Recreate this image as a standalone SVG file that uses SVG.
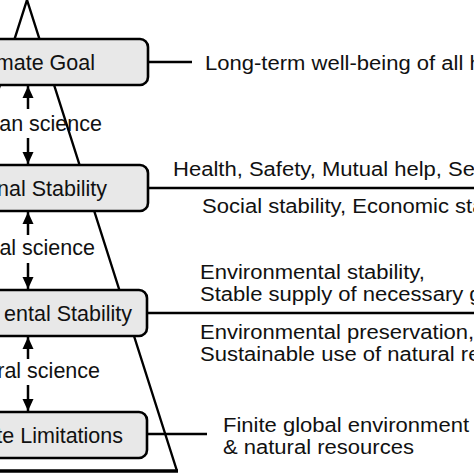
<svg xmlns="http://www.w3.org/2000/svg" width="474" height="474" viewBox="0 0 474 474">
<style>
.box{fill:#e8e8e8;stroke:#000;stroke-width:2.6}
.bt{font-family:"Liberation Sans",Arial,sans-serif;font-size:21.5px;fill:#111;text-anchor:end}
.rt{font-family:"Liberation Sans",Arial,sans-serif;font-size:19.5px;fill:#111}
.ln{stroke:#000;stroke-width:2.4;fill:none}
.ar{stroke:#000;stroke-width:2.5;fill:none;marker-end:url(#ah)}
</style>
<defs>
<marker id="ah" markerUnits="userSpaceOnUse" markerWidth="14" markerHeight="14" viewBox="0 0 14 14" refX="12" refY="7" orient="auto">
<path d="M0,1.5 L12,7 L0,12.5 Z" fill="#000"/>
</marker>
</defs>
<rect width="474" height="474" fill="#fff"/>
<g id="pyramid">
<path d="M-123,471 L27,0 L177,471" class="ln" stroke-width="2.6"/>
<line x1="-10" y1="471" x2="178" y2="471" stroke="#000" stroke-width="3.5"/>
</g>
<g id="connectors">
<line class="ar" x1="28" y1="109" x2="28" y2="86"/>
<line class="ar" x1="28" y1="138" x2="28" y2="164"/>
<line class="ar" x1="28" y1="235" x2="28" y2="212"/>
<line class="ar" x1="28" y1="263" x2="28" y2="289"/>
<line class="ar" x1="28" y1="359" x2="28" y2="337"/>
<line class="ar" x1="28" y1="385" x2="28" y2="411"/>
<line class="ln" x1="148" y1="62" x2="192" y2="62"/>
<line class="ln" x1="148" y1="188" x2="474" y2="188"/>
<line class="ln" x1="147" y1="313" x2="474" y2="313"/>
<line class="ln" x1="147" y1="434" x2="207" y2="434"/>
</g>
<g id="node-goal">
<rect class="box" x="-100" y="39" width="248" height="46" rx="8"/>
<text class="bt" x="95" y="69.5">mate Goal</text>
</g>
<g id="node-social">
<rect class="box" x="-100" y="165" width="248" height="46" rx="8"/>
<text class="bt" x="107" y="195.5">nal Stability</text>
</g>
<g id="node-env">
<rect class="box" x="-100" y="290" width="247" height="46" rx="8"/>
<text class="bt" x="132" y="320.5">ental Stability</text>
</g>
<g id="node-limits">
<rect class="box" x="-100" y="412" width="247" height="46" rx="8"/>
<text class="bt" x="123" y="442.5">te Limitations</text>
</g>
<g id="science-labels">
<text class="bt" x="102" y="131">an science</text>
<text class="bt" x="95" y="255">al science</text>
<text class="bt" x="100" y="378">ral science</text>
</g>
<g id="annotations" transform="scale(1.13 1)">
<text class="rt" x="181.4" y="70">Long-term well-being of all h</text>
<text class="rt" x="153.1" y="176">Health, Safety, Mutual help, Se</text>
<text class="rt" x="178.8" y="213">Social stability, Economic sta</text>
<text class="rt" x="177" y="279">Environmental stability,</text>
<text class="rt" x="177" y="301">Stable supply of necessary g</text>
<text class="rt" x="177" y="339">Environmental preservation,</text>
<text class="rt" x="177" y="361">Sustainable use of natural re</text>
<text class="rt" x="197.3" y="432">Finite global environment</text>
<text class="rt" x="197.3" y="454">&amp; natural resources</text>
</g>
</svg>
